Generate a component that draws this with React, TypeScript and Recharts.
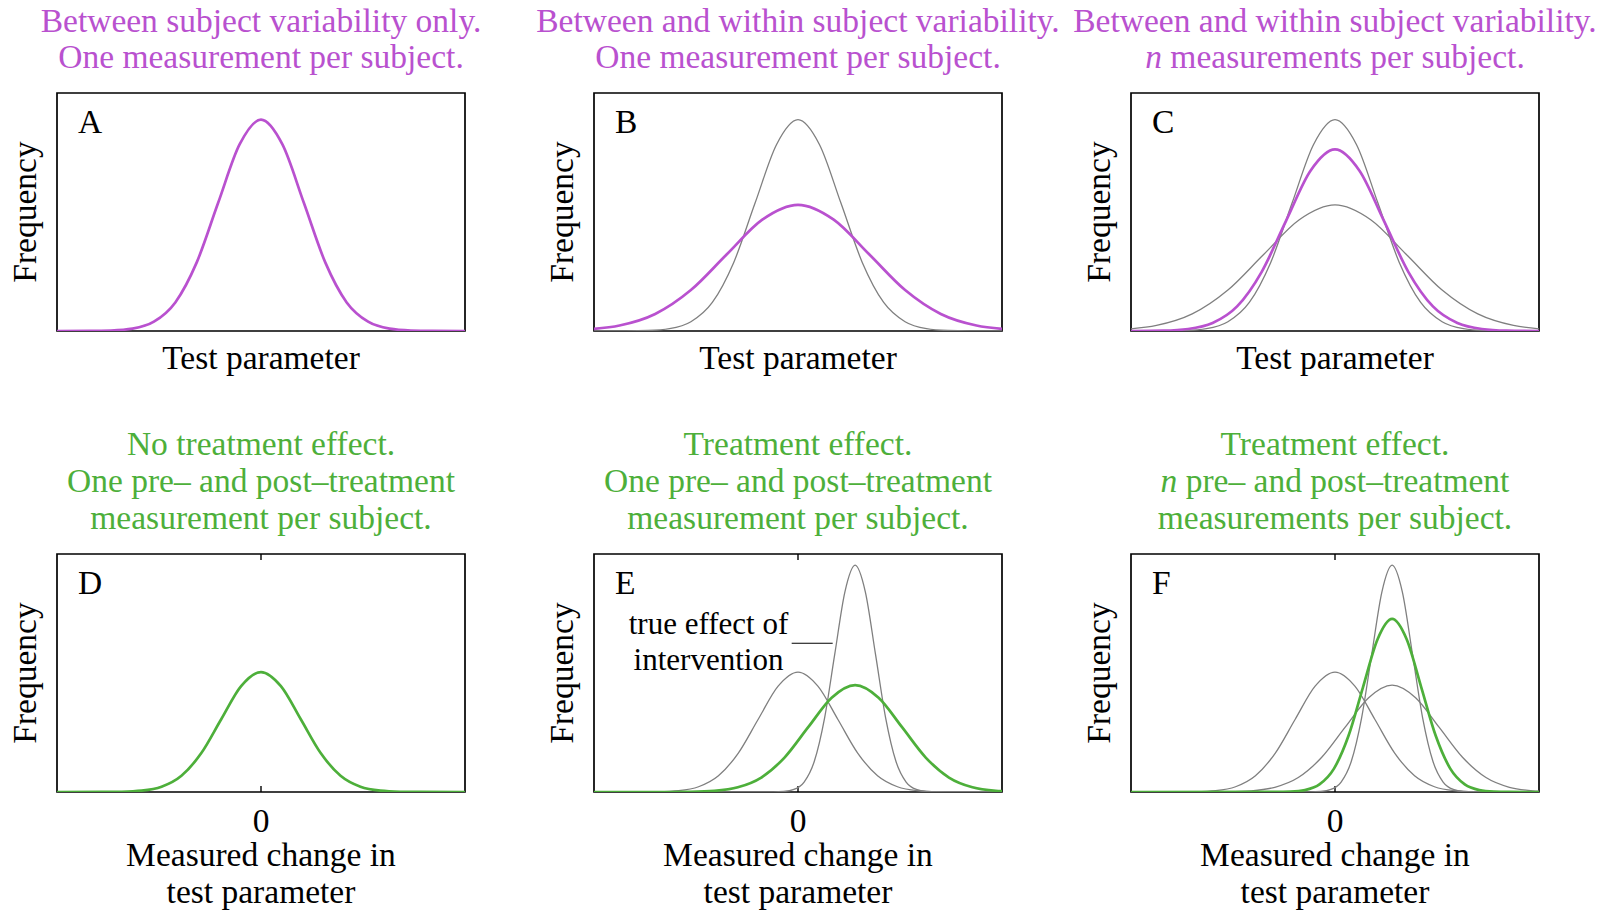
import React from 'react';
import { LineChart, Line, XAxis, YAxis, ReferenceArea, ReferenceLine } from 'recharts';

// ---------- data (x: position across the panel, -20..20; y: frequency, fraction of panel height) ----------
// A / grey in B, C : between-subject variability only
const betweenX = [-20, -16.8, -14.7, -12.6, -10.5, -8.4, -6.3, -4.2, -2.1, 0, 2.1, 4.2, 6.3, 8.4, 10.5, 12.6, 14.7, 16.8, 20];
const betweenY = [0, 0.0003, 0.002, 0.0099, 0.039, 0.1201, 0.2883, 0.5386, 0.7837, 0.888, 0.7837, 0.5386, 0.2883, 0.1201, 0.039, 0.0099, 0.002, 0.0003, 0];
// B / grey in C : between + within, one measurement
const singleX = [-20, -17.5, -14, -10.5, -7, -3.5, 0, 3.5, 7, 10.5, 14, 17.5, 20];
const singleY = [0.009, 0.0233, 0.0717, 0.1721, 0.3214, 0.4677, 0.53, 0.4677, 0.3214, 0.1721, 0.0717, 0.0233, 0.009];
// C : between + within, n measurements
const multiX = [-20, -16.8, -14.4, -12, -9.6, -7.2, -4.8, -2.4, 0, 2.4, 4.8, 7.2, 9.6, 12, 14.4, 16.8, 20];
const multiY = [0.0001, 0.0017, 0.0085, 0.0335, 0.1032, 0.2477, 0.4628, 0.6733, 0.763, 0.6733, 0.4628, 0.2477, 0.1032, 0.0335, 0.0085, 0.0017, 0.0001];
// D / grey in E, F : measured change, no treatment effect
const noEffectX = [-20, -15.6, -13.65, -11.7, -9.75, -7.8, -5.85, -3.9, -1.95, 0, 1.95, 3.9, 5.85, 7.8, 9.75, 11.7, 13.65, 15.6, 20];
const noEffectY = [0, 0.0002, 0.0011, 0.0056, 0.0221, 0.0682, 0.1636, 0.3057, 0.4448, 0.504, 0.4448, 0.3057, 0.1636, 0.0682, 0.0221, 0.0056, 0.0011, 0.0002, 0];
// grey narrow in E, F : true effect of intervention
const trueEffectX = [-20, -2.4, -1.4, -0.4, 0.6, 1.6, 2.6, 3.6, 4.6, 5.6, 6.6, 7.6, 8.6, 9.6, 10.6, 11.6, 12.6, 13.6, 20];
const trueEffectY = [0, 0.0003, 0.0021, 0.0106, 0.0418, 0.1289, 0.3094, 0.578, 0.841, 0.953, 0.841, 0.578, 0.3094, 0.1289, 0.0418, 0.0106, 0.0021, 0.0003, 0];
// E / grey wide in F : treatment effect, one pre/post measurement
const effectSingleX = [-20, -12.8, -10.5, -8.2, -5.9, -3.6, -1.3, 1.0, 3.3, 5.6, 7.9, 10.2, 12.5, 14.8, 17.1, 19.4, 20];
const effectSingleY = [0, 0.0001, 0.001, 0.005, 0.0197, 0.0607, 0.1458, 0.2723, 0.3962, 0.449, 0.3962, 0.2723, 0.1458, 0.0607, 0.0197, 0.005, 0.0034];
// F : treatment effect, n pre/post measurements
const effectMultiX = [-20, -5.8, -4.375, -2.95, -1.525, -0.1, 1.325, 2.75, 4.175, 5.6, 7.025, 8.45, 9.875, 11.3, 12.725, 14.15, 15.575, 17.0, 20];
const effectMultiY = [0, 0.0002, 0.0016, 0.0081, 0.0319, 0.0984, 0.2361, 0.4409, 0.6416, 0.727, 0.6416, 0.4409, 0.2361, 0.0984, 0.0319, 0.0081, 0.0016, 0.0002, 0];

const xTicks = [0];
const annotationX = [-0.62, 3.4];
const annotationY = 0.625;

// ---------- style ----------
const PURPLE = '#b951cf';
const GREEN = '#4daf3a';
const GREY = '#7f7f7f';
const FONT = "'Liberation Serif', 'Times New Roman', serif";
const FS = 33.5;

const COL_X = [57, 594, 1131];
const ROW_Y = [93, 554];
const BOX_W = 408;
const BOX_H = 238;
const PAD = 10;

const pts = (xs: number[], ys: number[]) => xs.map((x, i) => ({ x, y: ys[i] }));

type Curve = { xs: number[]; ys: number[]; color: string; width: number };

const grey = (xs: number[], ys: number[]): Curve => ({ xs, ys, color: GREY, width: 1.3 });
const main = (xs: number[], ys: number[], color: string): Curve => ({ xs, ys, color, width: 2.7 });

const ZeroTick = (props: any) => {
  const { x, y, payload } = props;
  return (
    <text x={x} y={y} dy={39.5} textAnchor="middle" fontSize={FS} fontFamily={FONT} fill="#000">
      {payload.value}
    </text>
  );
};

function Panel({ col, row, curves, annotate }: { col: number; row: number; curves: Curve[]; annotate?: boolean }) {
  const bottom = row === 1;
  const width = BOX_W + 2 * PAD;
  const height = BOX_H + 2 * PAD + (bottom ? 40 : 0);
  return (
    <div style={{ position: 'absolute', left: COL_X[col] - PAD, top: ROW_Y[row] - PAD }}>
      <LineChart width={width} height={height} margin={{ top: PAD, right: PAD, bottom: PAD, left: PAD }}>
        <XAxis
          type="number"
          dataKey="x"
          domain={[-20, 20]}
          allowDataOverflow
          hide={!bottom}
          ticks={xTicks}
          axisLine={false}
          tickLine={false}
          tickSize={0}
          tickMargin={0}
          height={40}
          tick={<ZeroTick />}
        />
        <YAxis type="number" domain={[0, 1]} hide allowDataOverflow />
        <ReferenceArea x1={-20} x2={20} y1={0} y2={1} fill="none" stroke="#000" strokeWidth={1.7} fillOpacity={0} />
        {bottom && (
          <ReferenceLine segment={[{ x: 0, y: 0 }, { x: 0, y: 0.025 }]} stroke="#000" strokeWidth={1.4} />
        )}
        {bottom && (
          <ReferenceLine segment={[{ x: 0, y: 1 }, { x: 0, y: 0.975 }]} stroke="#000" strokeWidth={1.4} />
        )}
        {annotate && (
          <ReferenceLine
            segment={[{ x: annotationX[0], y: annotationY }, { x: annotationX[1], y: annotationY }]}
            stroke="#000"
            strokeWidth={1.2}
          />
        )}
        {curves.map((c, i) => (
          <Line
            key={i}
            data={pts(c.xs, c.ys)}
            dataKey="y"
            type="monotone"
            dot={false}
            activeDot={false}
            stroke={c.color}
            strokeWidth={c.width}
            isAnimationActive={false}
          />
        ))}
      </LineChart>
    </div>
  );
}

const T = (props: any) => <text fontFamily={FONT} fontSize={FS} textAnchor="middle" {...props} />;

export default function App() {
  const cx = COL_X.map((x) => x + BOX_W / 2);
  const letters = ['A', 'B', 'C', 'D', 'E', 'F'];
  return (
    <div style={{ position: 'absolute', left: 0, top: 0, width: 1608, height: 910, background: '#fff' }}>
      <Panel col={0} row={0} curves={[main(betweenX, betweenY, PURPLE)]} />
      <Panel col={1} row={0} curves={[grey(betweenX, betweenY), main(singleX, singleY, PURPLE)]} />
      <Panel col={2} row={0} curves={[grey(betweenX, betweenY), grey(singleX, singleY), main(multiX, multiY, PURPLE)]} />
      <Panel col={0} row={1} curves={[main(noEffectX, noEffectY, GREEN)]} />
      <Panel
        col={1}
        row={1}
        annotate
        curves={[grey(noEffectX, noEffectY), grey(trueEffectX, trueEffectY), main(effectSingleX, effectSingleY, GREEN)]}
      />
      <Panel
        col={2}
        row={1}
        curves={[
          grey(noEffectX, noEffectY),
          grey(trueEffectX, trueEffectY),
          grey(effectSingleX, effectSingleY),
          main(effectMultiX, effectMultiY, GREEN),
        ]}
      />
      <svg width={1608} height={910} style={{ position: 'absolute', left: 0, top: 0, pointerEvents: 'none' }}>
        {/* top titles */}
        <T x={cx[0]} y={32} fill={PURPLE}>Between subject variability only.</T>
        <T x={cx[0]} y={68} fill={PURPLE}>One measurement per subject.</T>
        <T x={cx[1]} y={32} fill={PURPLE}>Between and within subject variability.</T>
        <T x={cx[1]} y={68} fill={PURPLE}>One measurement per subject.</T>
        <T x={cx[2]} y={32} fill={PURPLE}>Between and within subject variability.</T>
        <T x={cx[2]} y={68} fill={PURPLE}>
          <tspan fontStyle="italic">n</tspan> measurements per subject.
        </T>
        {/* bottom titles */}
        <T x={cx[0]} y={455} fill={GREEN}>No treatment effect.</T>
        <T x={cx[0]} y={492} fill={GREEN}>One pre– and post–treatment</T>
        <T x={cx[0]} y={529} fill={GREEN}>measurement per subject.</T>
        <T x={cx[1]} y={455} fill={GREEN}>Treatment effect.</T>
        <T x={cx[1]} y={492} fill={GREEN}>One pre– and post–treatment</T>
        <T x={cx[1]} y={529} fill={GREEN}>measurement per subject.</T>
        <T x={cx[2]} y={455} fill={GREEN}>Treatment effect.</T>
        <T x={cx[2]} y={492} fill={GREEN}>
          <tspan fontStyle="italic">n</tspan> pre– and post–treatment
        </T>
        <T x={cx[2]} y={529} fill={GREEN}>measurements per subject.</T>
        {/* panel letters */}
        {letters.map((l, i) => (
          <T key={l} x={COL_X[i % 3] + 21} y={ROW_Y[Math.floor(i / 3)] + 40} textAnchor="start" fill="#000">
            {l}
          </T>
        ))}
        {/* y labels */}
        {[0, 1].map((r) =>
          COL_X.map((x, c) => (
            <T
              key={`f${r}${c}`}
              x={0}
              y={0}
              fill="#000"
              transform={`translate(${x - 21.5},${ROW_Y[r] + BOX_H / 2}) rotate(-90)`}
            >
              Frequency
            </T>
          ))
        )}
        {/* x labels */}
        {cx.map((x, c) => (
          <T key={`tp${c}`} x={x} y={ROW_Y[0] + BOX_H + 38} fill="#000">Test parameter</T>
        ))}
        {cx.map((x, c) => (
          <T key={`mc${c}`} x={x} y={866} fill="#000">Measured change in</T>
        ))}
        {cx.map((x, c) => (
          <T key={`tq${c}`} x={x} y={903} fill="#000">test parameter</T>
        ))}
        {/* annotation */}
        <T x={708.5} y={634} fill="#000" fontSize={31}>true effect of</T>
        <T x={708.5} y={670} fill="#000" fontSize={31}>intervention</T>
      </svg>
    </div>
  );
}
